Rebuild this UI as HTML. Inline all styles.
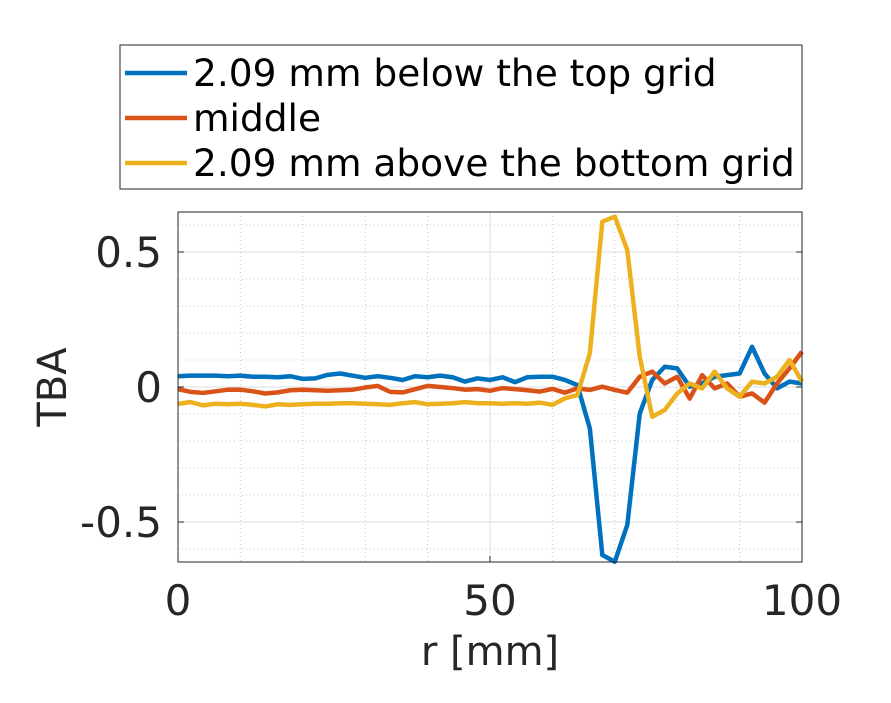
<!DOCTYPE html>
<html><head><meta charset="utf-8"><style>
body{margin:0;background:#fff;}
svg{display:block;font-family:"DejaVu Sans","Liberation Sans",sans-serif;}
</style></head><body>
<svg id="chart" width="891" height="703" viewBox="0 0 891 703">
<rect width="891" height="703" fill="#fff"/>
<g id="grid"></g>
<g id="series"></g>
<g id="axes"></g>
<g id="legend">
<rect x="120" y="45" width="682" height="144" fill="#fff" stroke="#262626" stroke-width="1"/>
<line x1="125" y1="73" x2="187" y2="73" stroke="#0072BD" stroke-width="4.5"/>
<text x="193" y="86" font-size="37.5" fill="#000">2.09 mm below the top grid</text>
<line x1="125" y1="118" x2="187" y2="118" stroke="#D95319" stroke-width="4.5"/>
<text x="193" y="131" font-size="37.5" fill="#000">middle</text>
<line x1="125" y1="163" x2="187" y2="163" stroke="#EDB120" stroke-width="4.5"/>
<text x="193" y="176" font-size="37.5" fill="#000">2.09 mm above the bottom grid</text>
</g>
</svg>
<script>
const rValues=[0,2,4,6,8,10,12,14,16,18,20,22,24,26,28,30,32,34,36,38,40,42,44,46,48,50,52,54,56,58,60,62,64,66,68,70,72,74,76,78,80,82,84,86,88,90,92,94,96,98,100];
const topGrid=[0.040,0.042,0.042,0.042,0.040,0.042,0.038,0.038,0.036,0.040,0.030,0.032,0.045,0.050,0.042,0.034,0.040,0.034,0.026,0.040,0.036,0.042,0.036,0.020,0.032,0.026,0.036,0.018,0.036,0.038,0.038,0.026,0.007,-0.153,-0.622,-0.647,-0.511,-0.098,0.026,0.075,0.069,0.001,0.013,0.038,0.044,0.050,0.149,0.050,-0.005,0.020,0.013];
const middle=[-0.008,-0.018,-0.022,-0.016,-0.010,-0.010,-0.016,-0.024,-0.020,-0.012,-0.010,-0.012,-0.014,-0.012,-0.010,-0.002,0.004,-0.018,-0.020,-0.008,0.004,0.000,-0.004,-0.010,-0.008,-0.014,-0.004,-0.008,-0.012,-0.017,-0.007,-0.021,-0.005,-0.011,0.001,-0.011,-0.021,0.038,0.057,0.013,0.038,-0.043,0.044,-0.005,0.013,-0.036,-0.024,-0.058,0.013,0.069,0.131];
const bottomGrid=[-0.062,-0.056,-0.068,-0.062,-0.064,-0.062,-0.066,-0.072,-0.064,-0.066,-0.064,-0.062,-0.062,-0.060,-0.060,-0.062,-0.064,-0.066,-0.060,-0.056,-0.064,-0.062,-0.060,-0.056,-0.060,-0.060,-0.062,-0.060,-0.062,-0.058,-0.066,-0.042,-0.030,0.125,0.612,0.631,0.507,0.112,-0.110,-0.085,-0.024,0.013,-0.005,0.057,-0.005,-0.036,0.020,0.013,0.038,0.100,0.020];
const xTicks=[0,50,100];
const xTickLabels=["0","50","100"];
const yTicks=[-0.5,0,0.5];
const yTickLabels=["-0.5","0","0.5"];

const X0=178,X1=802,Y0=562,Y1=212,YMIN=-0.648,YMAX=0.648;
function xs(v){return X0+(v-0)/(100-0)*(X1-X0);}
function ys(v){return Y0-(v-YMIN)/(YMAX-YMIN)*(Y0-Y1);}
const NS="http://www.w3.org/2000/svg";
function mk(tag,attrs,parent){const e=document.createElementNS(NS,tag);for(const k in attrs)e.setAttribute(k,attrs[k]);parent.appendChild(e);return e;}
const grid=document.getElementById('grid'),axes=document.getElementById('axes'),ser=document.getElementById('series');
for(let v=10;v<100;v+=10){if(v%50===0)continue;
 const l=mk('line',{x1:xs(v),x2:xs(v),y1:Y1,y2:Y0,stroke:'#c8c8c8','stroke-width':1,'stroke-dasharray':'1 3'},grid);
 
 }
for(let i=-6;i<=6;i++){if(i%5===0)continue;const v=i/10;
 const l=mk('line',{x1:X0,x2:X1,y1:ys(v),y2:ys(v),stroke:'#c8c8c8','stroke-width':1,'stroke-dasharray':'1 3'},grid);
 
 }
xTicks.forEach((v,i)=>{
 const g=mk('line',{x1:xs(v),x2:xs(v),y1:Y1,y2:Y0,stroke:'#dcdcdc','stroke-width':1},grid);
 
 
 const t=mk('text',{x:xs(v),y:615,'font-size':42,'text-anchor':'middle',fill:'#262626'},axes);
 t.textContent=xTickLabels[i];
 
 
 const tk=mk('line',{x1:xs(v),x2:xs(v),y1:Y0,y2:Y0-6,stroke:'#262626','stroke-width':1},axes);
 
 
});
yTicks.forEach((v,i)=>{
 const g=mk('line',{x1:X0,x2:X1,y1:ys(v),y2:ys(v),stroke:'#dcdcdc','stroke-width':1},grid);
 
 
 const t=mk('text',{x:162,y:ys(v)+15,'font-size':42,'text-anchor':'end',fill:'#262626'},axes);
 t.textContent=yTickLabels[i];
 
 
 const a=mk('line',{x1:X0,x2:X0+6,y1:ys(v),y2:ys(v),stroke:'#262626','stroke-width':1},axes);
 
 
 const b=mk('line',{x1:X1,x2:X1-6,y1:ys(v),y2:ys(v),stroke:'#262626','stroke-width':1},axes);
 
 
});
const box=mk('rect',{x:X0,y:Y1,width:X1-X0,height:Y0-Y1,fill:'none',stroke:'#262626','stroke-width':1},axes);


const xl=mk('text',{x:490,y:665,'font-size':40,'text-anchor':'middle',fill:'#262626'},axes);
xl.textContent='r [mm]';


const yl=mk('text',{x:0,y:0,'font-size':40,'text-anchor':'middle',fill:'#262626',transform:'translate(66,387) rotate(-90)'},axes);
yl.textContent='TBA';


function drawLine(arr,color,name){
 const d=arr.map((v,i)=>(i?'L':'M')+xs(rValues[i]).toFixed(2)+','+ys(v).toFixed(2)).join(' ');
 const p=mk('path',{d:d,fill:'none',stroke:color,'stroke-width':4.5,'stroke-linejoin':'round'},ser);
 
 
}
drawLine(topGrid,'#0072BD','series-top-grid');
drawLine(middle,'#D95319','series-middle');
drawLine(bottomGrid,'#EDB120','series-bottom-grid');
</script>
</body></html>
